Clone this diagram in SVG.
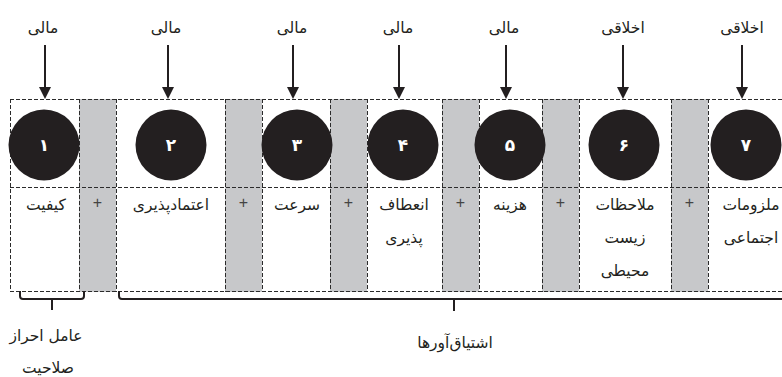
<svg xmlns="http://www.w3.org/2000/svg" width="782" height="377" viewBox="0 0 782 377">
  <style>
    .fa { font-family: "DejaVu Sans", "Noto Sans", sans-serif; font-size: 15.5px; fill: #231f20; text-anchor: middle; direction: rtl; }
    .num { font-family: "DejaVu Sans", sans-serif; font-size: 17px; font-weight: bold; fill: #ffffff; text-anchor: middle; }
    .plus { font-family: "Liberation Sans", sans-serif; font-size: 16px; fill: #444444; text-anchor: middle; }
    .band { fill: #c7c8ca; }
    .grid { stroke: #2b2b2b; stroke-width: 1; stroke-dasharray: 4 2; fill: none; }
    .disc { fill: #231f20; }
    .arrow { stroke: #231f20; stroke-width: 2; fill: none; marker-end: url(#head); }
    .brace { stroke: #231f20; stroke-width: 2; fill: none; }
  </style>
  <defs>
    <marker id="head" viewBox="0 0 12 12" refX="5" refY="6" markerWidth="12" markerHeight="12" markerUnits="userSpaceOnUse" orient="auto">
      <path d="M0,0 L12,6 L0,12 z" fill="#231f20"/>
    </marker>
  </defs>

  <!-- grey "+" bands between the criteria columns -->
  <g id="bands">
    <rect class="band" x="79" y="99" width="37" height="193"/>
    <rect class="band" x="225" y="99" width="37" height="193"/>
    <rect class="band" x="330" y="99" width="37" height="193"/>
    <rect class="band" x="442" y="99" width="37" height="193"/>
    <rect class="band" x="542" y="99" width="37" height="193"/>
    <rect class="band" x="671" y="99" width="37" height="193"/>
  </g>

  <!-- dashed cell borders -->
  <g id="grid" class="grid">
    <path d="M10,99.5 H782 M10,187.5 H782 M10,291.5 H782"/>
    <path d="M10.5,99 V292 M79.5,99 V292 M116.5,99 V292 M225.5,99 V292 M262.5,99 V292 M330.5,99 V292 M367.5,99 V292 M442.5,99 V292 M479.5,99 V292 M542.5,99 V292 M579.5,99 V292 M671.5,99 V292 M708.5,99 V292"/>
  </g>

  <!-- plus signs -->
  <g id="plus-signs">
    <text class="plus" x="97.5" y="208">+</text>
    <text class="plus" x="243.5" y="208">+</text>
    <text class="plus" x="348.5" y="208">+</text>
    <text class="plus" x="460.5" y="208">+</text>
    <text class="plus" x="560.5" y="208">+</text>
    <text class="plus" x="689.5" y="208">+</text>
  </g>

  <!-- criteria columns -->
  <g id="node-1">
    <text class="fa" x="43" y="33">مالی</text>
    <circle class="disc" cx="44" cy="145" r="35.5"/>
    <text class="num" x="44" y="151">۱</text>
    <text class="fa" x="46" y="210">کیفیت</text>
  </g>
  <g id="node-2">
    <text class="fa" x="166" y="33">مالی</text>
    <circle class="disc" cx="171" cy="145" r="35.5"/>
    <text class="num" x="171" y="151">۲</text>
    <text class="fa" x="171" y="210">اعتمادپذیری</text>
  </g>
  <g id="node-3">
    <text class="fa" x="292" y="33">مالی</text>
    <circle class="disc" cx="297" cy="145" r="35.5"/>
    <text class="num" x="297" y="151">۳</text>
    <text class="fa" x="297" y="210">سرعت</text>
  </g>
  <g id="node-4">
    <text class="fa" x="398" y="33">مالی</text>
    <circle class="disc" cx="403" cy="145" r="35.5"/>
    <text class="num" x="403" y="151">۴</text>
    <text class="fa" x="404" y="210">انعطاف</text>
    <text class="fa" x="404" y="243">پذیری</text>
  </g>
  <g id="node-5">
    <text class="fa" x="504" y="33">مالی</text>
    <circle class="disc" cx="510" cy="145" r="35.5"/>
    <text class="num" x="510" y="151">۵</text>
    <text class="fa" x="510" y="210">هزینه</text>
  </g>
  <g id="node-6">
    <text class="fa" x="623" y="33">اخلاقی</text>
    <circle class="disc" cx="624" cy="145" r="35.5"/>
    <text class="num" x="624" y="151">۶</text>
    <text class="fa" x="625" y="210">ملاحظات</text>
    <text class="fa" x="625" y="243">زیست</text>
    <text class="fa" x="625" y="276">محیطی</text>
  </g>
  <g id="node-7">
    <text class="fa" x="742" y="33">اخلاقی</text>
    <circle class="disc" cx="746" cy="145" r="35.5"/>
    <text class="num" x="746" y="151">۷</text>
    <text class="fa" x="751" y="210">ملزومات</text>
    <text class="fa" x="751" y="243">اجتماعی</text>
  </g>

  <!-- arrows and grouping braces -->
  <g id="connectors">
    <line class="arrow" x1="45" y1="45" x2="45" y2="92"/>
    <line class="arrow" x1="168" y1="45" x2="168" y2="92"/>
    <line class="arrow" x1="293" y1="45" x2="293" y2="92"/>
    <line class="arrow" x1="399" y1="45" x2="399" y2="92"/>
    <line class="arrow" x1="506" y1="45" x2="506" y2="92"/>
    <line class="arrow" x1="623" y1="45" x2="623" y2="92"/>
    <line class="arrow" x1="742" y1="45" x2="742" y2="92"/>

    <path class="brace" d="M20,291 V296 Q20,299 23,299 H81 Q84,299 84,296 V291 M52,299 V310"/>
    <path class="brace" d="M119,291 V296 Q119,299 122,299 H782 M454,299 V311"/>
  </g>

  <!-- group captions -->
  <g id="captions">
    <text class="fa" x="46" y="341">عامل احراز</text>
    <text class="fa" x="48" y="373">صلاحیت</text>
    <text class="fa" x="455" y="348">اشتیاق‌آورها</text>
  </g>
</svg>
